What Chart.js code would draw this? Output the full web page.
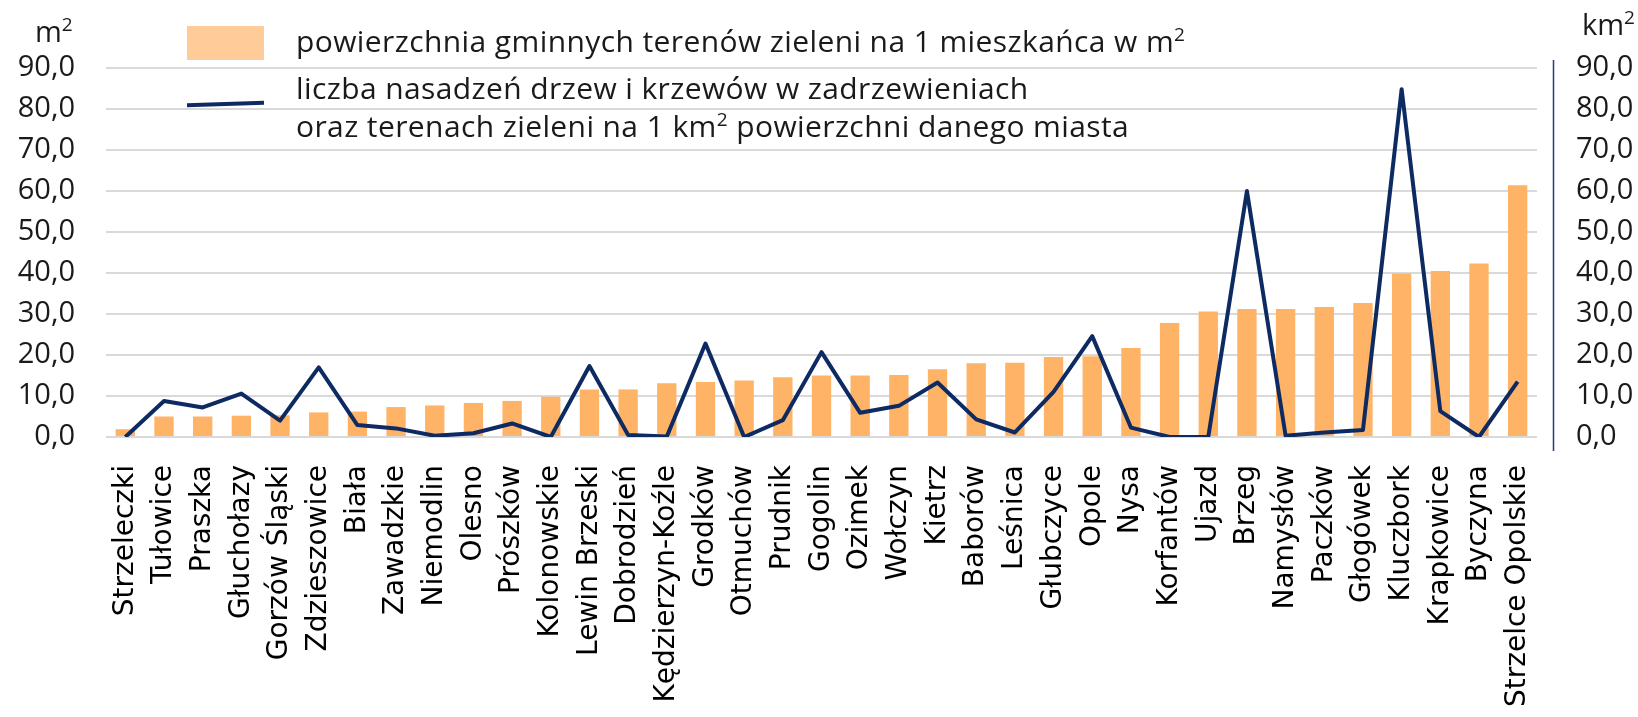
<!DOCTYPE html>
<html lang="pl">
<head>
<meta charset="utf-8">
<title>Tereny zieleni</title>
<script src="https://cdn.jsdelivr.net/npm/chart.js"></script>
<style>
  body { margin: 0; background: #fff; }
  #wrap { position: relative; width: 1638px; height: 717px; font-family: "Open Sans", sans-serif; color: #1a1a1a; }
  #wrap canvas { position: absolute; left: 0; top: 0; }
  .txt { position: absolute; font-size: 30px; line-height: 30px; white-space: nowrap; letter-spacing: 0.4px; }
  .unit { font-size: 29px; line-height: 29px; letter-spacing: 0; }
  .txt sup { font-size: 19px; vertical-align: 11px; line-height: 0; }
  .swatch { position: absolute; }
</style>
</head>
<body>
<div id="wrap">
  <canvas id="greenChart" width="1638" height="717"></canvas>
  <div class="txt unit" style="left:35px; top:16px;">m<sup>2</sup></div>
  <div class="txt unit" style="left:1582px; top:9px;">km<sup>2</sup></div>
  <div class="swatch" style="left:187px; top:26px; width:77px; height:34px; background:#FFCC99;"></div>
  <div class="swatch" style="left:187px; top:102px; width:77px; height:4px; background:#0D2A63; transform:rotate(-1.8deg);"></div>
  <div class="txt" style="left:296px; top:26px;">powierzchnia gminnych terenów zieleni na 1 mieszkańca w m<sup>2</sup></div>
  <div class="txt" style="left:296px; top:73px;">liczba nasadzeń drzew i krzewów w zadrzewieniach</div>
  <div class="txt" style="left:296px; top:111px;">oraz terenach zieleni na 1 km<sup>2</sup> powierzchni danego miasta</div>
</div>
<script>
const towns = ['Strzeleczki', 'Tułowice', 'Praszka', 'Głuchołazy', 'Gorzów Śląski', 'Zdzieszowice',
  'Biała', 'Zawadzkie', 'Niemodlin', 'Olesno', 'Prószków', 'Kolonowskie', 'Lewin Brzeski',
  'Dobrodzień', 'Kędzierzyn-Koźle', 'Grodków', 'Otmuchów', 'Prudnik', 'Gogolin', 'Ozimek',
  'Wołczyn', 'Kietrz', 'Baborów', 'Leśnica', 'Głubczyce', 'Opole', 'Nysa', 'Korfantów',
  'Ujazd', 'Brzeg', 'Namysłów', 'Paczków', 'Głogówek', 'Kluczbork', 'Krapkowice', 'Byczyna',
  'Strzelce Opolskie'];

// m2 of municipal green areas per inhabitant
const greenPerPerson = [1.9, 5.0, 5.0, 5.2, 5.3, 6.0, 6.2, 7.3, 7.7, 8.3, 8.8, 9.8, 11.6,
  11.6, 13.1, 13.4, 13.8, 14.6, 15.0, 15.0, 15.1, 16.5, 18.0, 18.1, 19.5, 19.7, 21.7, 27.8,
  30.6, 31.2, 31.2, 31.7, 32.7, 39.9, 40.5, 42.3, 61.4];

// trees and shrubs planted per 1 km2 of town area
const plantingsPerKm2 = [0.0, 8.8, 7.2, 10.6, 4.0, 17.0, 2.9, 2.1, 0.3, 0.9, 3.3, 0.0, 17.3,
  0.5, 0.1, 22.8, 0.0, 4.1, 20.7, 5.9, 7.6, 13.3, 4.3, 1.1, 11.0, 24.6, 2.3, 0.0, 0.0, 60.0,
  0.3, 1.1, 1.7, 84.8, 6.3, 0.0, 13.5];

const axisMin = 0;
const axisMax = 90;
const axisStep = 10;

const fmt = v => v.toFixed(1).replace('.', ',');
const tickFont = { family: 'Open Sans', size: 29 };

// thin blue line standing a little to the right of the plot, as in the source
const rightAxisLine = {
    id: 'rightAxisLine',
    afterDraw(chart) {
        const area = chart.chartArea;
        const ctx = chart.ctx;
        const x = area.right + 16.5;
        ctx.save();
        ctx.strokeStyle = '#1F3F7A';
        ctx.lineWidth = 1.5;
        ctx.beginPath();
        ctx.moveTo(x, area.top - 8);
        ctx.lineTo(x, area.bottom + 14);
        ctx.stroke();
        ctx.restore();
    }
};

const ctx = document.getElementById('greenChart').getContext('2d');
new Chart(ctx, {
    type: 'bar',
    data: {
        labels: towns,
        datasets: [{
            type: 'line',
            label: 'liczba nasadzeń drzew i krzewów',
            data: plantingsPerKm2,
            yAxisID: 'y1',
            borderColor: '#0D2A63',
            borderWidth: 4,
            borderJoinStyle: 'round',
            pointRadius: 0,
            tension: 0,
            order: 0
        }, {
            label: 'powierzchnia gminnych terenów zieleni',
            data: greenPerPerson,
            yAxisID: 'y',
            backgroundColor: '#FFB366',
            barPercentage: 0.5,
            categoryPercentage: 1,
            order: 1
        }]
    },
    options: {
        responsive: false,
        animation: false,
        layout: { padding: { top: 68, bottom: 0, left: 0, right: 0 } },
        plugins: {
            legend: { display: false },
            tooltip: { enabled: false }
        },
        scales: {
            x: {
                grid: { display: false, drawTicks: false },
                border: { display: false },
                ticks: {
                    minRotation: 90,
                    maxRotation: 90,
                    autoSkip: false,
                    padding: 28,
                    color: '#000',
                    font: { family: 'DejaVu Sans', size: 28 }
                },
                afterFit(scale) { scale.height = 280; }
            },
            y: {
                position: 'left',
                min: axisMin,
                max: axisMax,
                grid: { color: '#D9D9D9', lineWidth: 2, drawTicks: false },
                border: { display: false },
                ticks: {
                    stepSize: axisStep,
                    padding: 31,
                    color: '#1a1a1a',
                    font: tickFont,
                    callback: fmt
                },
                afterFit(scale) { scale.width = 106; }
            },
            y1: {
                position: 'right',
                min: axisMin,
                max: axisMax,
                grid: { display: false, drawTicks: false },
                border: { display: false },
                ticks: {
                    stepSize: axisStep,
                    padding: 39,
                    color: '#1a1a1a',
                    font: tickFont,
                    callback: fmt
                },
                afterFit(scale) { scale.width = 101; }
            }
        }
    },
    plugins: [rightAxisLine]
});
</script>
</body>
</html>
